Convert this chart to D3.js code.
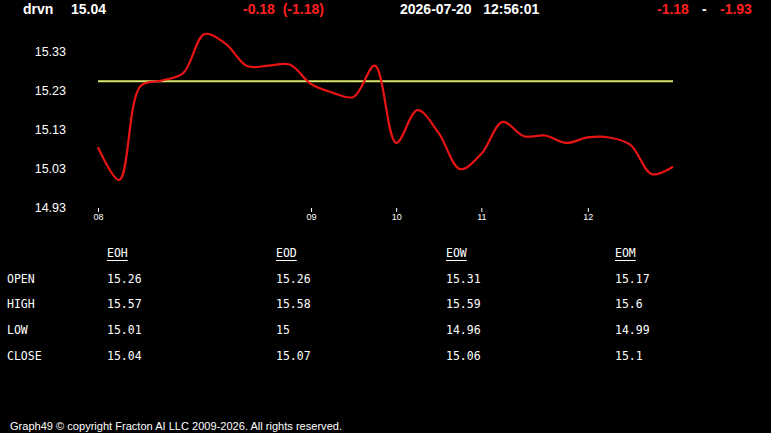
<!DOCTYPE html>
<html>
<head>
<meta charset="utf-8">
<script src="https://cdn.jsdelivr.net/npm/d3@7"></script>
<style>
  body { margin: 0; background: #000; }
  svg { display: block; }
</style>
</head>
<body>
<div id="chart"></div>
<script>
// header values
var symbol = "drvn";
var lastPrice = "15.04";
var change = "-0.18  (-1.18)";
var stamp = "2026-07-20   12:56:01";
var rangeLow = "-1.18";
var rangeHigh = "-1.93";

// price path, one point per sample
var prices = [15.091, 15.007, 15.248, 15.262, 15.281, 15.381, 15.356, 15.299,
  15.300, 15.303, 15.253, 15.231, 15.220, 15.300, 15.102, 15.186, 15.127,
  15.035, 15.074, 15.156, 15.119, 15.121, 15.102, 15.116, 15.116, 15.097,
  15.022, 15.041];
var openLevel = 15.26;

var yTicks = [14.93, 15.03, 15.13, 15.23, 15.33];
var xTickIndex = [0, 10, 14, 18, 23];
var xTickLabels = ["08", "09", "10", "11", "12"];

// stats table
var statCols = ["EOH", "EOD", "EOW", "EOM"];
var statRows = ["OPEN", "HIGH", "LOW", "CLOSE"];
var eoh = ["15.26", "15.57", "15.01", "15.04"];
var eod = ["15.26", "15.58", "15", "15.07"];
var eow = ["15.31", "15.59", "14.96", "15.06"];
var eom = ["15.17", "15.6", "14.99", "15.1"];

var footer = "Graph49 \u00a9 copyright Fracton AI LLC 2009-2026. All rights reserved.";

var svgWidth = 771;
var svgHeight = 433;

var svg = d3.select("#chart")
  .append("svg")
  .attr("width", svgWidth)
  .attr("height", svgHeight)
  .style("background", "#000");

// header
var hdr = svg.append("g")
  .attr("font-family", "'Liberation Sans', Arial, sans-serif")
  .attr("font-weight", "bold")
  .attr("font-size", "14px");
hdr.append("text").attr("x", 23).attr("y", 14).attr("fill", "#fff").text(symbol);
hdr.append("text").attr("x", 71).attr("y", 14).attr("fill", "#fff").text(lastPrice);
hdr.append("text").attr("x", 243).attr("y", 14).attr("fill", "#ff2020")
  .style("white-space", "pre").text(change);
hdr.append("text").attr("x", 400).attr("y", 14).attr("fill", "#fff")
  .style("white-space", "pre").text(stamp);
hdr.append("text").attr("x", 657).attr("y", 14).attr("fill", "#ff2020").text(rangeLow);
hdr.append("text").attr("x", 702).attr("y", 14).attr("fill", "#fff").text("-");
hdr.append("text").attr("x", 720).attr("y", 14).attr("fill", "#ff2020").text(rangeHigh);

// scales
var x = d3.scaleLinear()
  .domain([0, prices.length - 1])
  .range([98, 673]);

var y = d3.scaleLinear()
  .domain([14.93, 15.33])
  .range([210, 54]);

// y labels
svg.append("g")
  .selectAll("text")
  .data(yTicks)
  .enter()
  .append("text")
  .attr("x", 66)
  .attr("y", d => y(d) - 3)
  .attr("dy", "0.36em")
  .attr("text-anchor", "end")
  .attr("font-family", "'Liberation Sans', Arial, sans-serif")
  .attr("font-size", "12.5px")
  .attr("fill", "#fff")
  .text(d => d.toFixed(2));

// x axis ticks
var bottomAxis = d3.axisBottom(x)
  .tickValues(xTickIndex)
  .tickFormat((d, i) => xTickLabels[i])
  .tickSize(4)
  .tickPadding(2);

var xAxis = svg.append("g")
  .attr("transform", "translate(0, 208)")
  .call(bottomAxis);
xAxis.select(".domain").remove();
xAxis.selectAll("line").attr("stroke", "#fff");
xAxis.selectAll("text")
  .attr("fill", "#fff")
  .attr("font-family", "'Liberation Sans', Arial, sans-serif")
  .attr("font-size", "9px");

// open level line
svg.append("line")
  .attr("x1", x(0))
  .attr("x2", x(prices.length - 1))
  .attr("y1", y(openLevel))
  .attr("y2", y(openLevel))
  .attr("stroke", "#d8e46a")
  .attr("stroke-width", 2);

// price line
var line = d3.line()
  .x((d, i) => x(i))
  .y(d => y(d))
  .curve(d3.curveCatmullRom.alpha(0.5));

svg.append("path")
  .datum(prices)
  .attr("d", line)
  .attr("fill", "none")
  .attr("stroke", "#e81414")
  .attr("stroke-width", 2.2);

// stats table
var colX = [107, 276, 446, 615];
var rowY = [279, 304, 330, 356];
var colData = [eoh, eod, eow, eom];

var tbl = svg.append("g")
  .attr("font-family", "'DejaVu Sans Mono', monospace")
  .attr("font-size", "11.5px")
  .attr("fill", "#fff");

statCols.forEach(function(c, i) {
  var t = tbl.append("text")
    .attr("x", colX[i])
    .attr("y", 253)
    .attr("dy", "0.36em")
    .text(c);
  var w = t.node().getComputedTextLength();
  tbl.append("line")
    .attr("x1", colX[i]).attr("x2", colX[i] + w)
    .attr("y1", 260.5).attr("y2", 260.5)
    .attr("stroke", "#fff").attr("stroke-width", 1);
});

statRows.forEach(function(r, j) {
  tbl.append("text")
    .attr("x", 7)
    .attr("y", rowY[j])
    .attr("dy", "0.36em")
    .text(r);
  colData.forEach(function(col, i) {
    tbl.append("text")
      .attr("x", colX[i])
      .attr("y", rowY[j])
      .attr("dy", "0.36em")
      .text(col[j]);
  });
});

// footer
svg.append("text")
  .attr("x", 10)
  .attr("y", 430)
  .attr("font-family", "'Liberation Sans', Arial, sans-serif")
  .attr("font-size", "11px")
  .attr("fill", "#fff")
  .attr("textLength", 332)
  .attr("lengthAdjust", "spacingAndGlyphs")
  .text(footer);
</script>
</body>
</html>
